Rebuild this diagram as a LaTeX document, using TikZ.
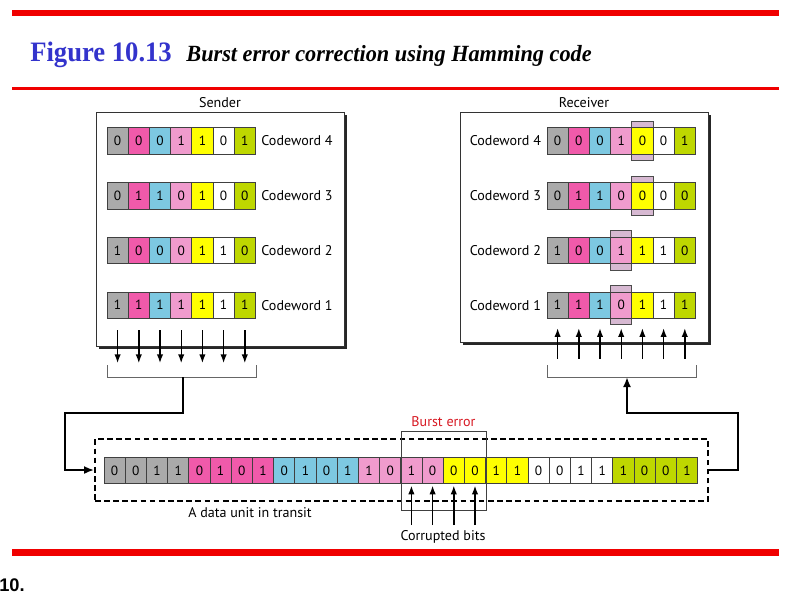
\documentclass[tikz,border=0pt]{standalone}
\usepackage{fontspec}
\setmainfont{Liberation Serif}
\setsansfont{PT Sans}
\newfontfamily\numfont{Liberation Sans}
\usetikzlibrary{arrows.meta,positioning,calc,shadows}
\definecolor{BarRed}{RGB}{240,0,0}
\definecolor{TitleBlue}{RGB}{51,51,204}
\definecolor{BurstRed}{RGB}{215,25,35}
\definecolor{Col1}{RGB}{170,170,170}
\definecolor{Col2}{RGB}{240,90,170}
\definecolor{Col3}{RGB}{125,200,225}
\definecolor{Col4}{RGB}{240,155,205}
\definecolor{Col5}{RGB}{255,255,0}
\definecolor{Col6}{RGB}{255,255,255}
\definecolor{Col7}{RGB}{190,215,0}
\definecolor{FlipMauve}{RGB}{215,185,210}
\tikzset{
  bit/.style={draw=black!75,line width=0.5pt,minimum width=0.53cm,
    minimum height=0.66cm,inner sep=0pt,font=\sffamily\fontsize{9.5}{10}\selectfont},
  flip/.style={draw=black!70,fill=FlipMauve,line width=0.5pt,
    minimum width=0.53cm,minimum height=0.98cm,inner sep=0pt},
  panel/.style={draw=black!80,fill=white,line width=0.6pt,
    drop shadow={shadow xshift=0.08cm,shadow yshift=-0.08cm,opacity=1,fill=black!85}},
  tag/.style={font=\sffamily\fontsize{10}{12}\selectfont,inner sep=1pt},
  bitarrow/.style={-{Latex[length=2.2mm,width=1.6mm]},line width=1pt},
  link/.style={line width=1.4pt,-{Latex[length=2.5mm,width=2mm]}},
  bracket/.style={draw=black!60,line width=0.6pt},
  unitbox/.style={draw,line width=1.2pt,dash pattern=on 4pt off 2.5pt,
    minimum width=15.325cm,minimum height=1.55cm},
  burstbox/.style={draw=black!75,line width=0.6pt,minimum width=2.125cm,
    minimum height=1.975cm}
}

\begin{document}
\begin{tikzpicture}[x=0.025cm,y=-0.025cm]
  \useasboundingbox (0,0) rectangle (800,600);
  % red rules
  \fill[BarRed] (12,10) rectangle (779,16);
  \fill[BarRed] (12,87) rectangle (779,89.5);
  \fill[BarRed] (12,549) rectangle (779,556);
  % title
  \node[anchor=base west,inner sep=0pt,text=TitleBlue,
    font=\bfseries\fontsize{20}{24}\selectfont] (fignum) at (30,61)
    {\scalebox{0.947}[1]{Figure 10.13}};
  \node[anchor=base west,inner sep=0pt,font=\bfseries\itshape\fontsize{16.5}{20}\selectfont]
    (figcap) at ([xshift=0.35cm]fignum.base east)
    {\scalebox{0.96}[1]{Burst error correction using Hamming code}};
  \node[anchor=west,inner sep=0pt,font=\numfont\bfseries\fontsize{13}{15}\selectfont]
    (pagenum) at (-1,585) {10.};

  % sender side
  \node[panel,minimum width=6.2cm,minimum height=5.85cm] (sender) at (220,229) {};
  \node[tag,above=0.05cm of sender] (sendlbl) {Sender};
  \foreach \bits [count=\r] in {{0,0,0,1,1,0,1},{0,1,1,0,1,0,0},{1,0,0,0,1,1,0},{1,1,1,1,1,1,1}}{
    \pgfmathtruncatemacro{\cw}{5-\r}
    \pgfmathsetmacro{\yrow}{141+(\r-1)*54.7}
    \foreach \b [count=\c] in \bits
      \node[bit,fill=Col\c] (s\cw-\c) at ({117.6+(\c-1)*21.2},\yrow) {\b};
    \node[tag,right=0.1cm of s\cw-7] (slbl\cw) {Codeword \cw};
  }
  \foreach \c in {1,...,7}
    \draw[bitarrow] ($(s1-\c.south)+(0,11.5)$) -- ($(s1-\c.south)+(0,44.5)$);
  \draw[bracket] (107,365) -- (107,377) -- (256,377) -- (256,365);
  \coordinate (sbrk) at (183,377);

  % receiver side
  \node[panel,minimum width=6.2cm,minimum height=5.75cm] (receiver) at (584,227) {};
  \node[tag,above=0.05cm of receiver] (recvlbl) {Receiver};
  \foreach \r/\c in {1/5,2/5,3/4,4/4}
    \node[flip] (fix\r) at ({557.6+(\c-1)*21.2},{141+(\r-1)*54.7}) {};
  \foreach \bits [count=\r] in {{0,0,0,1,0,0,1},{0,1,1,0,0,0,0},{1,0,0,1,1,1,0},{1,1,1,0,1,1,1}}{
    \pgfmathtruncatemacro{\cw}{5-\r}
    \pgfmathsetmacro{\yrow}{141+(\r-1)*54.7}
    \foreach \b [count=\c] in \bits
      \node[bit,fill=Col\c] (r\cw-\c) at ({557.6+(\c-1)*21.2},\yrow) {\b};
    \node[tag,left=0.1cm of r\cw-1] (rlbl\cw) {Codeword \cw};
  }
  \foreach \c in {1,...,7}
    \draw[bitarrow] ($(r1-\c.south)+(0,40)$) -- ($(r1-\c.south)+(0,9.5)$);
  \draw[bracket] (547,365) -- (547,377) -- (696,377) -- (696,365);
  \coordinate (rbrk) at (627,377);

  % data unit in transit
  \node[unitbox] (transit) at (401.5,470) {};
  \foreach \b [count=\i] in {0,0,1,1,0,1,0,1,0,1,0,1,1,0,1,0,0,0,1,1,0,0,1,1,1,0,0,1}{
    \pgfmathtruncatemacro{\g}{int((\i-1)/4)+1}
    \node[bit,fill=Col\g] (t\i) at ({114.6+(\i-1)*21.2},470.5) {\b};
  }
  \node[burstbox] (burst) at (443.5,470.5) {};
  \node[tag,text=BurstRed,above=0.05cm of burst] (burstlbl) {Burst error};
  \foreach \i in {15,...,18}
    \draw[bitarrow] ($(t\i.south)+(0,41)$) -- ($(t\i.south)+(0,1.5)$);
  \node[tag] (corrupt) at (443,537) {Corrupted bits};
  \node[tag] (transitlbl) at (250,513) {A data unit in transit};

  % links
  \draw[link] (sbrk) |- (65,413) |- (transit.west);
  \draw[link] (transit.east) -| (738,413) -| (rbrk);
\end{tikzpicture}
\end{document}
